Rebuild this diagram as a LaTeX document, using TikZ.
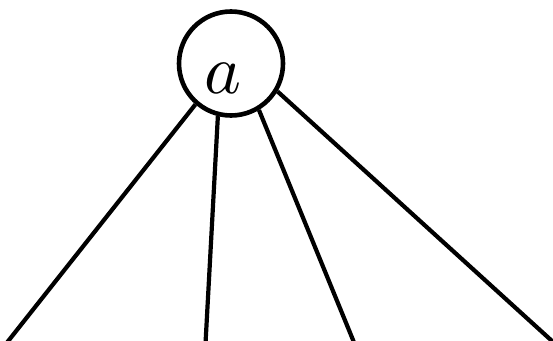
\documentclass[tikz,border=0pt]{standalone}
\usepackage{tikz}
\usetikzlibrary{calc}
\tikzset{
  vertex/.style={draw=black, circle, line width=4.6pt, minimum size=104pt, inner sep=0pt},
  vlabel/.style={scale=7, inner sep=0pt},
  branch/.style={draw=black, line width=4.2pt},
}

\begin{document}
\begin{tikzpicture}[x=1pt,y=1pt]
  \useasboundingbox (0,0) rectangle (553,340);
  % Root vertex, label sits a little low in the circle
  \node[vertex] (a) at (231,276.5) {};
  \node[vlabel] (atext) at (223,262) {$a$};
  % Lower ends run past the bottom edge
  \coordinate (c1) at (-6.8,-20);
  \coordinate (c2) at (204.6,-20);
  \coordinate (c3) at (361.2,-20);
  \coordinate (c4) at (572.9,-20);
  % Branches
  \draw[branch] (a.229) -- (c1);
  \draw[branch] (a.256) -- (c2);
  \draw[branch] (a.301) -- (c3);
  \draw[branch] (a.329) -- (c4);
\end{tikzpicture}
\end{document}
